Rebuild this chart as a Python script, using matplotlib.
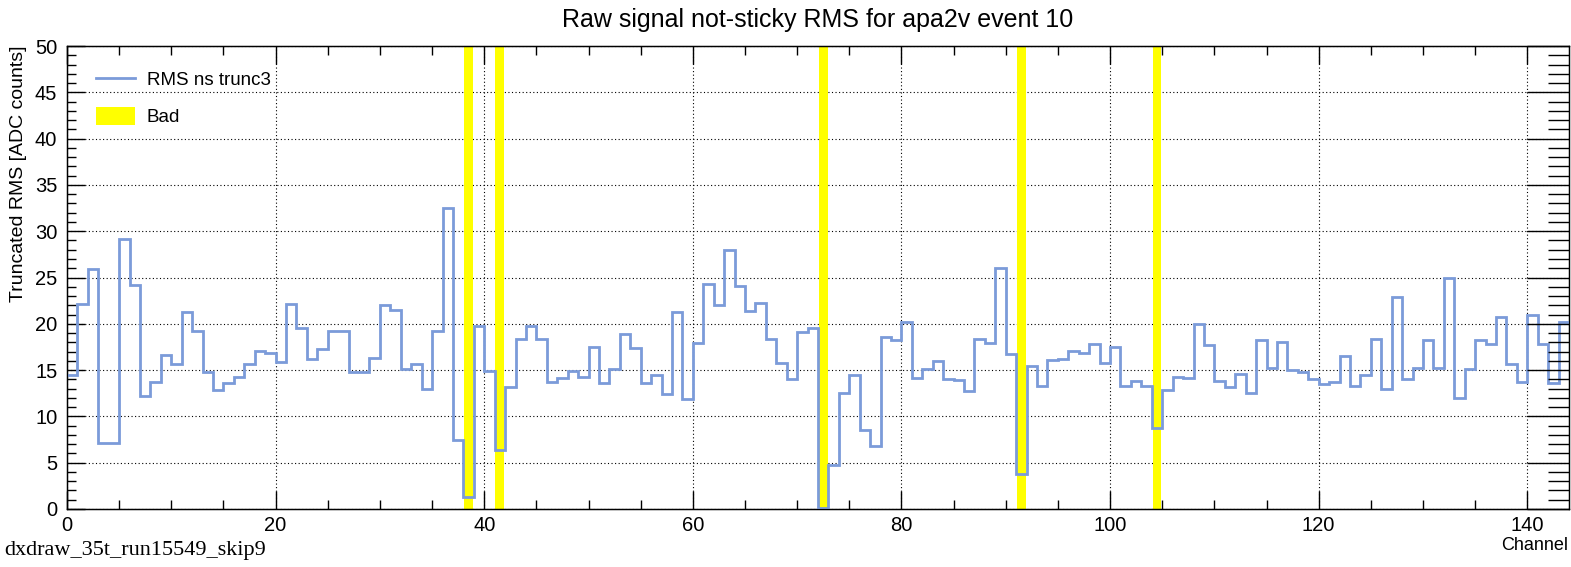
import numpy as np
import matplotlib
matplotlib.use("Agg")
import matplotlib.pyplot as plt
from matplotlib.lines import Line2D
from matplotlib.patches import Patch
from matplotlib.ticker import MultipleLocator

plt.rcParams['font.family'] = ['Liberation Sans', 'DejaVu Sans']

# Data =========================================================================
rms_values = [
    14.5, 22.1, 25.9, 7.1, 7.1, 29.2, 24.2, 12.2, 13.7, 16.6,
    15.7, 21.3, 19.2, 14.8, 12.9, 13.6, 14.3, 15.7, 17.1, 16.9,
    15.9, 22.1, 19.6, 16.2, 17.3, 19.2, 19.2, 14.8, 14.8, 16.3,
    22.0, 21.5, 15.1, 15.7, 13.0, 19.2, 32.5, 7.4, 1.3, 19.8,
    14.9, 6.4, 13.2, 18.4, 19.8, 18.4, 13.7, 14.2, 14.9, 14.3,
    17.5, 13.6, 15.1, 18.9, 17.4, 13.6, 14.5, 12.4, 21.3, 11.9,
    17.9, 24.3, 22.0, 28.0, 24.1, 21.4, 22.3, 18.4, 15.8, 14.0,
    19.1, 19.5, 0.1, 4.8, 12.5, 14.5, 8.5, 6.8, 18.6, 18.3,
    20.2, 14.2, 15.1, 16.0, 14.0, 13.9, 12.7, 18.4, 17.9, 26.0,
    16.7, 3.8, 15.4, 13.3, 16.1, 16.2, 17.1, 16.9, 17.8, 15.8,
    17.5, 13.3, 13.8, 13.3, 8.8, 12.8, 14.3, 14.1, 20.0, 17.7,
    13.8, 13.2, 14.6, 12.5, 18.3, 15.2, 18.0, 15.0, 14.8, 14.0,
    13.5, 13.7, 16.5, 13.3, 14.5, 18.4, 13.0, 22.9, 14.0, 15.2,
    18.3, 15.2, 24.9, 12.0, 15.1, 18.2, 17.8, 20.7, 15.7, 13.7,
    20.9, 17.8, 13.6, 20.2,
]
bad_channels = [38, 41, 72, 91, 104]

title = "Raw signal not-sticky RMS for apa2v event 10"
ylabel = "Truncated RMS [ADC counts]"
xlabel = "Channel"
footer = "dxdraw_35t_run15549_skip9"

line_color = "#7b9bd9"
bad_color = "#ffff00"

# Figure =======================================================================
W, H = 1571, 567
fig = plt.figure(figsize=(W / 100, H / 100), dpi=100)
ax = fig.add_axes([67 / W, 1 - 509 / H, (1569 - 67) / W, (509 - 46) / H])

nch = len(rms_values)
edges = np.arange(nch + 1)

ax.set_xlim(0, nch)
ax.set_ylim(0, 50)

# grid
ax.grid(True, which='major', color='black', linestyle=(0, (1, 2.2)), linewidth=0.8)
ax.set_axisbelow(True)

# bad channel bands
for ch in bad_channels:
    ax.axvspan(ch + 0.07, ch + 0.93, color=bad_color, zorder=2, lw=0)

ax.stairs(rms_values, edges, baseline=None, color=line_color, linewidth=2.0, zorder=3)

# ticks
ax.xaxis.set_major_locator(MultipleLocator(20))
ax.xaxis.set_minor_locator(MultipleLocator(5))
ax.yaxis.set_major_locator(MultipleLocator(5))
ax.yaxis.set_minor_locator(MultipleLocator(1))
ax.tick_params(which='both', direction='in', top=True, right=False, width=1.0,
               labelsize=14.5, pad=5)
ax.tick_params(which='major', length=13)
ax.tick_params(which='minor', length=6.5)
ax.tick_params(axis='y', pad=7)
for sp in ax.spines.values():
    sp.set_linewidth(1.0)

# right side ticks are longer in the reference
ax2 = ax.twinx()
ax2.set_ylim(0, 50)
ax2.yaxis.set_major_locator(MultipleLocator(5))
ax2.yaxis.set_minor_locator(MultipleLocator(1))
ax2.tick_params(which='both', direction='in', labelright=False, width=1.0)
ax2.tick_params(which='major', length=30)
ax2.tick_params(which='minor', length=15)

# legend
handles = [Line2D([0], [0], color=line_color, lw=2.0),
           Patch(facecolor=bad_color, edgecolor='none')]
ax.legend(handles, ["RMS ns trunc3", "Bad"], loc='upper left', frameon=False,
          fontsize=13.5, bbox_to_anchor=(0.008, 0.985), borderaxespad=0.5,
          handlelength=2.1, handleheight=1.1, handletextpad=0.6, labelspacing=0.95)

# texts
fig.text((67 + 1569) / 2 / W, 1 - 20 / H, title, ha='center', va='center', fontsize=18)
fig.text(19 / W, 1 - 46 / H, ylabel, rotation=90, ha='center', va='top', fontsize=14)
fig.text(1568 / W, 1 - 546 / H, xlabel, ha='right', va='center', fontsize=13)
fig.text(4 / W, 1 - 551 / H, footer, ha='left', va='center', fontsize=16,
         family=['Liberation Serif', 'DejaVu Serif'])

fig.savefig("out.png", dpi=100)
